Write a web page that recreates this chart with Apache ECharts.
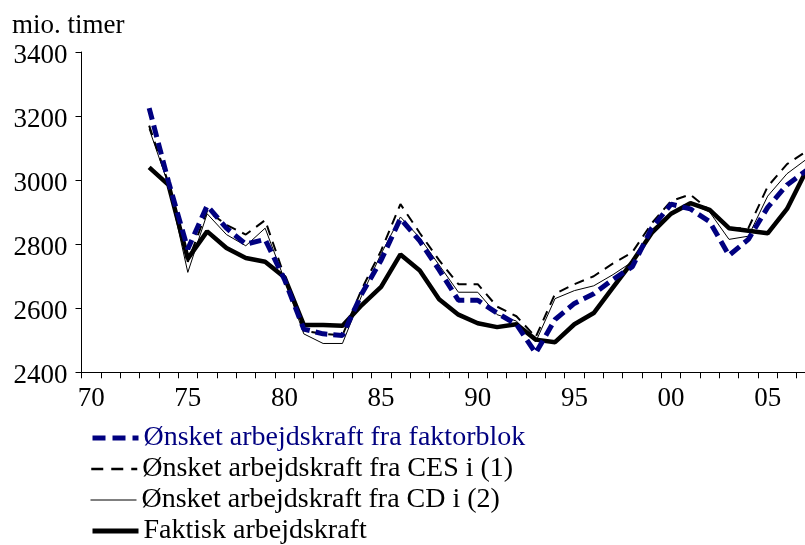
<!DOCTYPE html>
<html>
<head>
<meta charset="utf-8">
<script src="https://cdn.jsdelivr.net/npm/echarts@6/dist/echarts.min.js"></script>
<style>html,body{margin:0;padding:0;background:#fff}#c{width:805px;height:545px}</style>
</head>
<body>
<div id="c"></div>
<script>
const years = ['1970','1971','1972','1973','1974','1975','1976','1977','1978','1979','1980','1981','1982','1983','1984','1985','1986','1987','1988','1989','1990','1991','1992','1993','1994','1995','1996','1997','1998','1999','2000','2001','2002','2003','2004','2005','2006','2007'];
const tickLabels = ['70','75','80','85','90','95','00','05'];
const yTicks = [2400, 2600, 2800, 3000, 3200, 3400];
const seriesNames = ['Ønsket arbejdskraft fra faktorblok','Ønsket arbejdskraft fra CES i (1)','Ønsket arbejdskraft fra CD i (2)','Faktisk arbejdskraft'];
const faktorblok = [null,null,null,3225,2995,2785,2920,2850,2800,2815,2690,2535,2520,2515,2645,2750,2880,2810,2720,2625,2625,2585,2550,2460,2565,2615,2645,2690,2730,2850,2925,2910,2870,2765,2815,2915,2985,3030];
const ces = [null,null,null,3170,2990,2745,2905,2860,2830,2875,2700,2530,2520,2515,2660,2780,2925,2835,2750,2675,2675,2605,2575,2510,2645,2675,2700,2740,2775,2865,2935,2955,2905,2850,2850,2980,3050,3090];
const cd = [null,null,null,3160,2985,2712,2895,2830,2795,2850,2690,2520,2490,2490,2640,2770,2885,2820,2735,2650,2650,2580,2560,2495,2630,2655,2670,2705,2745,2845,2900,2928,2900,2815,2825,2950,3020,3065];
const faktisk = [null,null,null,3040,2985,2755,2840,2788,2757,2745,2697,2548,2548,2545,2610,2667,2768,2718,2628,2580,2553,2541,2550,2502,2494,2550,2585,2665,2745,2835,2895,2928,2907,2850,2842,2834,2910,3030];

const FONT = 'Liberation Serif';
const chart = echarts.init(document.getElementById('c'), null, {renderer:'canvas'});
function legendAt(name, top, color, ls){
  return {
    data:[name], orient:'vertical', left:90, top:top,
    itemWidth:46, itemHeight:14, padding:0,
    itemStyle:{opacity:0},
    lineStyle:ls,
    textStyle:{fontFamily:FONT, fontSize:28, color:color, lineHeight:28},
    selectedMode:false
  };
}
chart.setOption({
  animation:false,
  backgroundColor:'#fff',
  graphic:[{type:'text', left:12, top:12, style:{text:'mio. timer', font:'27px "Liberation Serif"', fill:'#000'}}],
  legend:[
    legendAt(seriesNames[0], 424, '#000080', {color:'#000080', width:5, type:[13,7]}),
    legendAt(seriesNames[1], 455, '#000', {color:'#000', width:2.5, type:[12,8]}),
    legendAt(seriesNames[2], 486, '#000', {color:'#000', width:1, type:'solid'}),
    legendAt(seriesNames[3], 517, '#000', {color:'#000', width:5, type:'solid'})
  ],
  grid:{left:81.5, top:52, height:320.3, width:734.5, containLabel:false, outerBoundsMode:'none'},
  xAxis:{
    type:'category', data:years, boundaryGap:true,
    axisLine:{show:true, lineStyle:{color:'#000', width:1}},
    axisTick:{show:true, interval:0, length:6, alignWithLabel:false, lineStyle:{color:'#000'}},
    axisLabel:{interval:function(i){return i%5===0;}, formatter:function(v,i){return tickLabels[i/5];}, fontFamily:FONT, fontSize:27, color:'#000', margin:13},
    splitLine:{show:false}
  },
  yAxis:{
    type:'value', min:yTicks[0], max:yTicks[yTicks.length-1], interval:200,
    axisLine:{show:true, lineStyle:{color:'#000', width:1}},
    axisTick:{show:true, length:6, lineStyle:{color:'#000'}},
    axisLabel:{fontFamily:FONT, fontSize:27, color:'#000', margin:14, verticalAlign:'top', lineHeight:8, formatter:function(v){return String(v);}},
    splitLine:{show:false}
  },
  series:[
    {name:seriesNames[3], type:'line', data:faktisk, symbol:'none', z:2, lineStyle:{color:'#000', width:4.5}, itemStyle:{color:'#000'}},
    {name:seriesNames[2], type:'line', data:cd, symbol:'none', z:3, lineStyle:{color:'#000', width:1}, itemStyle:{color:'#000'}},
    {name:seriesNames[1], type:'line', data:ces, symbol:'none', z:4, lineStyle:{color:'#000', width:2, type:[10,7]}, itemStyle:{color:'#000'}},
    {name:seriesNames[0], type:'line', data:faktorblok, symbol:'none', z:5, lineStyle:{color:'#000080', width:5, type:[12,6]}, itemStyle:{color:'#000080'}}
  ]
});
</script>
</body>
</html>
